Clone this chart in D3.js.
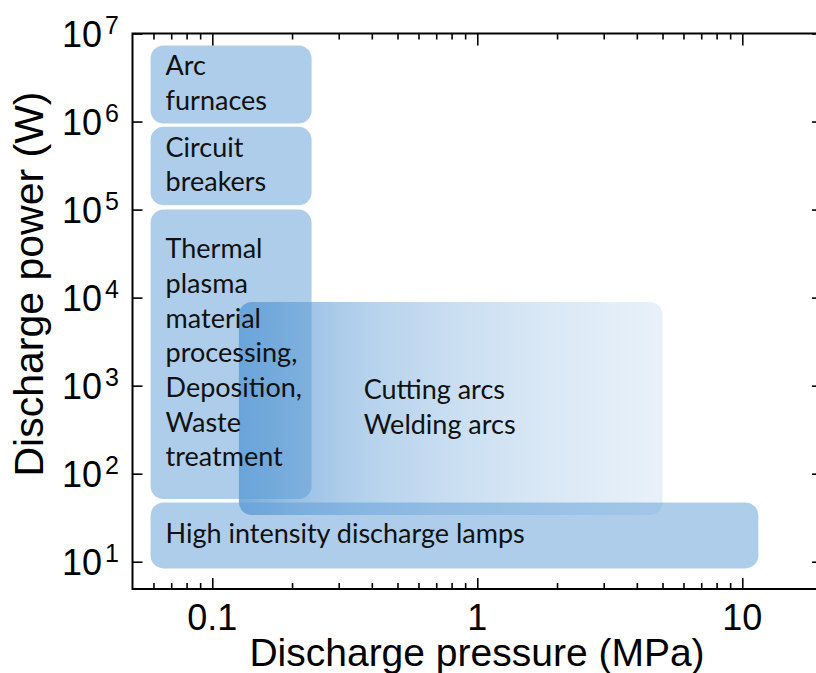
<!DOCTYPE html>
<html><head><meta charset="utf-8">
<script src="https://cdn.jsdelivr.net/npm/d3@7"></script>
<style>body{margin:0;background:#fff} svg{display:block}</style>
</head><body><svg id="c" width="816" height="673"></svg>
<script>
// ---- data ----
const categories = ["Arc furnaces","Circuit breakers","Thermal plasma processing","High intensity discharge lamps","Cutting / Welding arcs"];
const labelLines = [
  ["Arc","furnaces"],
  ["Circuit","breakers"],
  ["Thermal","plasma","material","processing,","Deposition,","Waste","treatment"],
  ["High intensity discharge lamps"],
  ["Cutting arcs","Welding arcs"]
];
const pressureMin = [0.0585, 0.0585, 0.0585, 0.0585, 0.126];   // MPa
const pressureMax = [0.237, 0.237, 0.237, 11.5, 5.0];          // MPa
const powerMin    = [9.5e5, 1.12e5, 51.5, 8.4, 33.9];           // W
const powerMax    = [7.3e6, 8.7e5, 1.0e5, 47.2, 8930];          // W
const labelAlign  = ["left","left","left","left","center"];
const gradientBox = [false,false,false,false,true];

const xMajor = [0.1, 1, 10];
const xTickLabels = ["0.1","1","10"];
const xMinor = [0.06,0.07,0.08,0.09,0.2,0.3,0.4,0.5,0.6,0.7,0.8,0.9,2,3,4,5,6,7,8,9];
const yMajor = [1e1,1e2,1e3,1e4,1e5,1e6,1e7];
const yExponents = ["1","2","3","4","5","6","7"];

// ---- layout ----
const svg = d3.select("#c");
const pL = 132.5, pB = 589, pT = 33.5, pxPerDecade = 265;
const x = d3.scaleLog().domain([0.05, 20]).range([pL, pL + pxPerDecade*Math.log10(20/0.05)]);
const y = d3.scaleLog().domain([4.9, 1e7]).range([pB, pT]);
const pR = x.range()[1];

const blue = "#5B9BD5";
const defs = svg.append("defs");
const grad = defs.append("linearGradient").attr("id","g1").attr("x1","0%").attr("x2","100%").attr("y1","0%").attr("y2","0%");
[[0,0.82],[0.15,0.6],[0.3,0.45],[0.5,0.33],[0.75,0.22],[1,0.14]].forEach(s=>{
  grad.append("stop").attr("offset",s[0]).attr("stop-color",blue).attr("stop-opacity",s[1]);
});

const boxFont = "Lato, 'Open Sans', sans-serif";
const boxFontSize = 27;
const lineH = 34.7;

const idx = d3.range(categories.length);
// boxes
svg.append("g").selectAll("rect").data(idx).join("rect")
  .attr("x", i=>x(pressureMin[i]))
  .attr("y", i=>y(powerMax[i]))
  .attr("width", i=>x(pressureMax[i])-x(pressureMin[i]))
  .attr("height", i=>y(powerMin[i])-y(powerMax[i]))
  .attr("rx", 13).attr("ry", 13)
  .attr("fill", i=>gradientBox[i] ? "url(#g1)" : blue)
  .attr("fill-opacity", i=>gradientBox[i] ? 1 : 0.5);

// labels
const lg = svg.append("g").attr("font-family", boxFont).attr("font-size", boxFontSize).attr("fill","#111");
idx.forEach(i=>{
  const lines = labelLines[i];
  const cy = (y(powerMax[i]) + y(powerMin[i]))/2;
  const firstBase = cy - (lines.length-1)*lineH/2 + 8;
  const t = lg.append("text");
  lines.forEach((l,k)=>{
    t.append("tspan").attr("x", 0).attr("y", firstBase + k*lineH).text(l);
  });
  let x0 = x(pressureMin[i]) + 15;
  if (labelAlign[i]==="center") {
    const w = t.node().getBBox().width;
    x0 = (x(pressureMin[i]) + x(pressureMax[i]))/2 - w/2 - 11;
  }
  t.selectAll("tspan").attr("x", x0);
});

// ---- axes ----
function ticks(axisFn, vals, size, tr){
  const g = svg.append("g").attr("transform", tr)
    .call(axisFn.tickValues(vals).tickSize(size).tickSizeOuter(0).tickFormat(""));
  g.select(".domain").remove();
  g.selectAll(".tick line").attr("stroke","#000").attr("stroke-width",1.6);
  return g;
}
ticks(d3.axisBottom(x), xMajor, -11, `translate(0,${pB})`);
ticks(d3.axisBottom(x), xMinor, -6, `translate(0,${pB})`);
ticks(d3.axisTop(x), xMajor, -12, `translate(0,${pT})`);
ticks(d3.axisTop(x), xMinor, -6, `translate(0,${pT})`);
ticks(d3.axisLeft(y), yMajor, -10, `translate(${pL},0)`);
ticks(d3.axisRight(y), yMajor, -10, `translate(${pR},0)`);

// frame
svg.append("rect").attr("x",pL).attr("y",pT).attr("width",pR-pL).attr("height",pB-pT)
  .attr("fill","none").attr("stroke","#000").attr("stroke-width",2);

// tick labels
const tickFont = "Arial, 'Liberation Sans', sans-serif";
svg.append("g").selectAll("text").data(xMajor).join("text")
  .attr("x", d=>x(d)).attr("y", 630).attr("text-anchor","middle")
  .attr("font-family",tickFont).attr("font-size",36).attr("fill","#000")
  .text((d,i)=>xTickLabels[i]);

const yl = svg.append("g").attr("font-family",tickFont).attr("fill","#000");
yMajor.forEach((d,i)=>{
  const t = yl.append("text").attr("x",119).attr("y", y(d)+13).attr("text-anchor","end").attr("font-size",36);
  t.append("tspan").text("10");
  t.append("tspan").attr("font-size",25).attr("dx",3).attr("dy",-13).text(yExponents[i]);
});

// axis titles
svg.append("text").attr("x", 477).attr("y", 666).attr("text-anchor","middle")
  .attr("font-family",tickFont).attr("font-size",39).attr("fill","#000")
  .text("Discharge pressure (MPa)");
svg.append("text").attr("transform","translate(43,284) rotate(-90)").attr("text-anchor","middle")
  .attr("font-family",tickFont).attr("font-size",41).attr("fill","#000")
  .text("Discharge power (W)");
</script></body></html>
